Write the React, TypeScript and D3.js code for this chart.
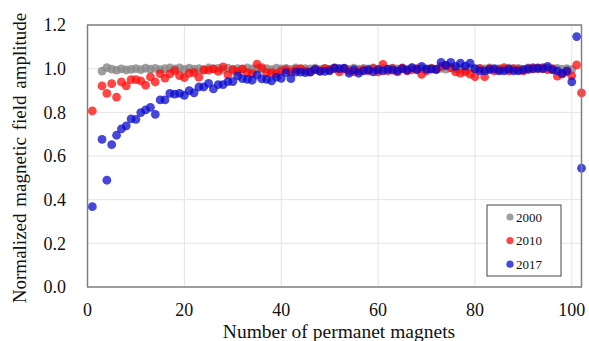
import * as d3 from 'd3';

// magnet numbers 1..102 (magnet #2 has no reading)
const magnets = d3.range(1, 103);

const gray2000: (number | null)[] = [
  null, null, 0.989, 1.005, 0.998, 0.993, 0.999, 0.994, 0.997, 1.0,
  0.996, 1.002, 0.998, 1.001, 0.996, 1.0, 1.003, 0.999, 1.004, 0.997,
  1.002, 0.998, 1.0, 0.997, 1.003, 0.999, 1.001, 0.996, 1.002, 0.998,
  1.0, 0.997, 1.003, 0.999, 1.001, 0.998, 1.0, 0.996, 1.002, 0.999,
  1.001, 0.997, 1.003, 0.998, 1.0, 0.999, 1.002, 0.997, 1.001, 0.998,
  1.004, 0.999, 1.0, 0.997, 1.002, 0.998, 1.001, 0.999, 1.003, 0.997,
  1.0, 0.998, 1.002, 0.999, 1.001, 0.997, 1.003, 0.998, 1.0, 0.999,
  1.002, 0.996, 1.001, 0.998, 1.003, 0.999, 1.0, 0.997, 1.002, 0.998,
  1.001, 0.999, 1.003, 0.997, 1.0, 0.998, 1.002, 0.999, 1.001, 0.997,
  1.004, 0.998, 1.0, 0.999, 1.002, 0.997, 1.001, 0.998, 1.0, 0.996,
  null, null,
];

const red2010: (number | null)[] = [
  0.807, null, 0.921, 0.887, 0.931, 0.870, 0.939, 0.921, 0.950, 0.950,
  0.944, 0.924, 0.962, 0.939, 0.977, 0.957, 0.976, 0.991, 0.968, 0.959,
  0.979, 0.982, 0.961, 0.993, 0.993, 0.999, 0.988, 1.008, 0.972, 0.994,
  0.988, 0.999, 0.982, 0.977, 1.021, 1.005, 0.982, 0.982, 0.977, 0.990,
  0.995, 0.985, 0.997, 1.0, 0.990, 0.985, 0.996, 0.990, 1.0, 0.995,
  1.002, 0.985, 1.0, 0.990, 0.985, 0.990, 0.995, 0.990, 1.0, 0.985,
  1.020, 0.990, 1.0, 0.985, 1.003, 0.990, 0.995, 1.0, 0.974, 0.990,
  1.0, 0.995, 1.010, 1.015, 1.005, 0.985, 0.980, 0.985, 0.975, 0.963,
  1.0, 0.963, 1.0, 0.990, 0.995, 1.005, 0.990, 1.0, 0.995, 0.990,
  0.995, 1.005, 1.0, 1.005, 0.995, 1.0, 0.966, 0.975, 0.985, 0.967,
  1.017, 0.889,
];

const blue2017: (number | null)[] = [
  0.368, null, 0.676, 0.489, 0.652, 0.695, 0.724, 0.738, 0.770, 0.768,
  0.799, 0.811, 0.823, 0.791, 0.857, 0.857, 0.887, 0.883, 0.887, 0.878,
  0.899, 0.889, 0.916, 0.916, 0.933, 0.907, 0.927, 0.927, 0.941, 0.941,
  0.967, 0.954, 0.951, 0.947, 0.971, 0.953, 0.951, 0.944, 0.961, 0.956,
  0.982, 0.954, 0.984, 0.984, 0.982, 0.984, 0.997, 0.988, 0.988, 0.990,
  1.002, 1.0, 1.002, 0.979, 0.995, 0.979, 0.990, 0.995, 0.985, 0.995,
  0.990, 0.998, 0.993, 0.990, 1.0, 0.993, 1.005, 0.995, 1.010, 0.998,
  0.998, 0.998, 1.029, 1.015, 1.029, 1.010, 1.025, 1.012, 1.025, 1.0,
  0.990, 0.990, 0.995, 1.0, 0.990, 0.990, 0.998, 0.990, 0.990, 0.995,
  1.0, 1.0, 1.003, 1.0, 1.010, 0.995, 0.990, 0.979, 0.990, 0.940,
  1.147, 0.544,
];

const series = [
  { label: '2000', values: gray2000, fill: 'rgba(135,135,135,0.8)' },
  { label: '2010', values: red2010, fill: 'rgba(255,10,10,0.75)' },
  { label: '2017', values: blue2017, fill: 'rgba(10,10,205,0.75)' },
];

const xTicks = [0, 20, 40, 60, 80, 100];
const yTicks = [0, 0.2, 0.4, 0.6, 0.8, 1.0, 1.2];

const W = 589;
const H = 341;
const serif = '"Liberation Serif", "Times New Roman", serif';

export default function App() {
  const left = 87.5;
  const right = 581.5;
  const top = 25;
  const bottom = 287;

  const x = d3.scaleLinear().domain([0, 102]).range([left, right]);
  const y = d3.scaleLinear().domain([0, 1.2]).range([bottom, top]);

  const legend = { x: 487, y: 205, w: 74, h: 71 };

  return (
    <svg
      width={W}
      height={H}
      style={{ position: 'absolute', left: 0, top: 0, background: '#fff' }}
      fontFamily={serif}
    >
      {/* grid */}
      {yTicks.map((t) => (
        <line key={'gy' + t} x1={left} x2={right} y1={y(t)} y2={y(t)} stroke="#e4e4e4" strokeWidth={1} />
      ))}
      {xTicks.map((t) => (
        <line key={'gx' + t} x1={x(t)} x2={x(t)} y1={top} y2={bottom} stroke="#e4e4e4" strokeWidth={1} />
      ))}

      {/* points */}
      {series.map((s) => (
        <g key={s.label}>
          {magnets.map((m, i) =>
            s.values[i] == null ? null : (
              <circle key={m} cx={x(m)} cy={y(s.values[i] as number)} r={4.4} fill={s.fill} />
            )
          )}
        </g>
      ))}

      {/* frame */}
      <rect x={left} y={top} width={right - left} height={bottom - top} fill="none" stroke="#808080" strokeWidth={1.5} />

      {/* tick labels */}
      {yTicks.map((t) => (
        <text key={'ty' + t} x={66} y={y(t)} dy="0.35em" textAnchor="end" fontSize={18} fill="#111">
          {t.toFixed(1)}
        </text>
      ))}
      {xTicks.map((t) => (
        <text key={'tx' + t} x={x(t)} y={316} textAnchor="middle" fontSize={18} fill="#111">
          {t}
        </text>
      ))}

      {/* axis titles */}
      <text x={339} y={337.5} textAnchor="middle" fontSize={19.5} fill="#111">
        Number of permanet magnets
      </text>
      <text
        transform={`translate(26,${(top + bottom) / 2 + 2}) rotate(-90)`}
        textAnchor="middle"
        fontSize={19}
        wordSpacing={2}
        fill="#111"
      >
        Normalized magnetic field amplitude
      </text>

      {/* legend */}
      <rect x={legend.x} y={legend.y} width={legend.w} height={legend.h} fill="#fff" stroke="#444" strokeWidth={1} />
      {series.map((s, i) => (
        <g key={'lg' + s.label} transform={`translate(${legend.x + 23},${legend.y + 12 + i * 23.6})`}>
          <circle cx={0} cy={0} r={3.6} fill={s.fill} />
          <text x={6} y={0} dy="0.35em" fontSize={13} fill="#111">
            {s.label}
          </text>
        </g>
      ))}
    </svg>
  );
}
